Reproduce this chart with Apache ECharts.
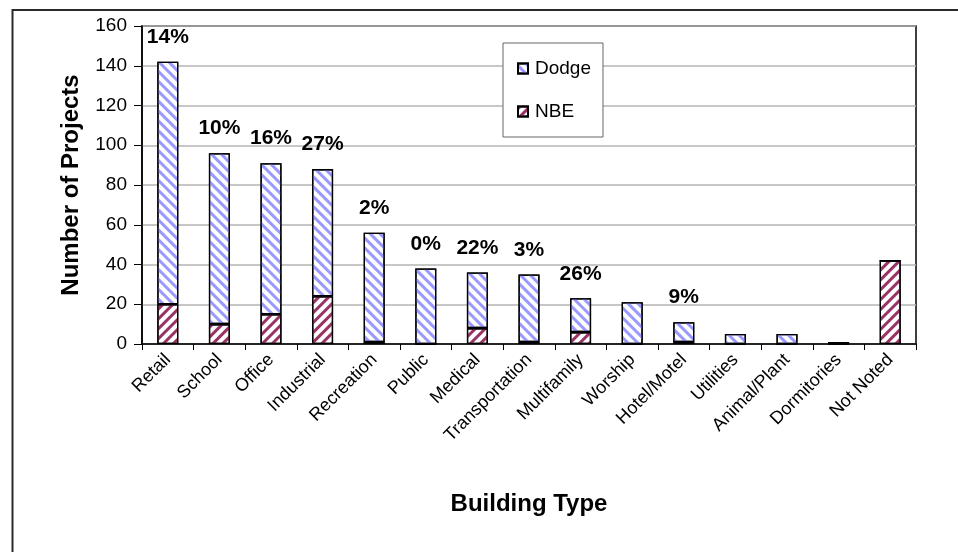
<!DOCTYPE html>
<html>
<head>
<meta charset="utf-8">
<script src="https://cdn.jsdelivr.net/npm/echarts@6/dist/echarts.min.js"></script>
<style>
html,body{margin:0;padding:0;background:#fff;}
#chart{width:958px;height:552px;}
</style>
</head>
<body>
<div id="chart"></div>
<script>
var categories = ['Retail','School','Office','Industrial','Recreation','Public','Medical','Transportation','Multifamily','Worship','Hotel/Motel','Utilities','Animal/Plant','Dormitories','Not Noted'];
var nbeValues   = [20, 10, 15, 24, 1, 0, 8, 1, 6, 0, 1, 0, 0, 0, 42];
var dodgeValues = [122, 86, 76, 64, 55, 38, 28, 34, 17, 21, 10, 5, 5, 1, 0];
var pctLabels = ['14%','10%','16%','27%','2%','0%','22%','3%','26%','','9%','','','',''];
var yTicks = {min: 0, max: 160, interval: 20};

var FONT = 'Liberation Sans, Arial, sans-serif';
var chart = echarts.init(document.getElementById('chart'));
chart.setOption({
  backgroundColor: '#ffffff',
  animation: false,
  graphic: [{
    type: 'rect', left: 10, top: 7.5, silent: true,
    shape: {width: 1000, height: 700},
    style: {fill: 'none', stroke: '#2a2a2a', lineWidth: 2}
  }],
  grid: {left: 142, right: 42, top: 26, bottom: 208, show: true, borderColor: '#000', borderWidth: 1.5, backgroundColor: 'transparent'},
  legend: {
    data: ['Dodge', 'NBE'],
    orient: 'vertical',
    left: 503, top: 43,
    padding: [16, 12, 16, 14],
    itemGap: 24,
    itemWidth: 10, itemHeight: 10,
    icon: 'rect',
    backgroundColor: '#fff',
    borderColor: '#666', borderWidth: 1,
    textStyle: {fontFamily: FONT, fontSize: 19, color: '#000', padding: [0, 0, 0, 2]}
  },
  xAxis: {
    type: 'category',
    data: categories,
    name: 'Building Type',
    nameLocation: 'middle',
    nameGap: 148,
    nameTextStyle: {fontFamily: FONT, fontSize: 24, fontWeight: 'bold', color: '#000'},
    axisLine: {lineStyle: {color: '#000', width: 1.5}},
    axisTick: {show: true, length: 6, lineStyle: {color: '#000'}},
    axisLabel: {rotate: 45, fontFamily: FONT, fontSize: 18, color: '#000', margin: 13, interval: 0}
  },
  yAxis: {
    type: 'value',
    min: yTicks.min, max: yTicks.max, interval: yTicks.interval,
    name: 'Number of Projects',
    nameLocation: 'middle',
    nameGap: 59,
    nameTextStyle: {fontFamily: FONT, fontSize: 24, fontWeight: 'bold', color: '#000'},
    axisLine: {show: true, lineStyle: {color: '#000', width: 1.5}},
    axisTick: {show: true, length: 8, lineStyle: {color: '#000'}},
    axisLabel: {fontFamily: FONT, fontSize: 19, color: '#000', margin: 15},
    splitLine: {lineStyle: {color: '#b4b4b4', width: 1.5}}
  },
  series: [{
    name: 'NBE',
    type: 'bar',
    stack: 'total',
    barWidth: 21,
    data: nbeValues,
    itemStyle: {
      color: '#ffffff', borderColor: '#000', borderWidth: 1.3,
      decal: {symbol: 'rect', symbolSize: 1, color: '#993366', dashArrayX: [1, 0], dashArrayY: [3, 4], rotation: -Math.PI / 4}
    }
  }, {
    name: 'Dodge',
    type: 'bar',
    stack: 'total',
    barWidth: 21,
    data: dodgeValues,
    itemStyle: {
      color: '#ffffff', borderColor: '#000', borderWidth: 1.3,
      decal: {symbol: 'rect', symbolSize: 1, color: '#9999ff', dashArrayX: [1, 0], dashArrayY: [3, 4], rotation: Math.PI / 4}
    },
    label: {
      show: true, position: 'top', distance: 14,
      fontFamily: FONT, fontSize: 21, fontWeight: 'bold', color: '#000',
      formatter: function (p) { return pctLabels[p.dataIndex]; }
    }
  }]
});
</script>
</body>
</html>
